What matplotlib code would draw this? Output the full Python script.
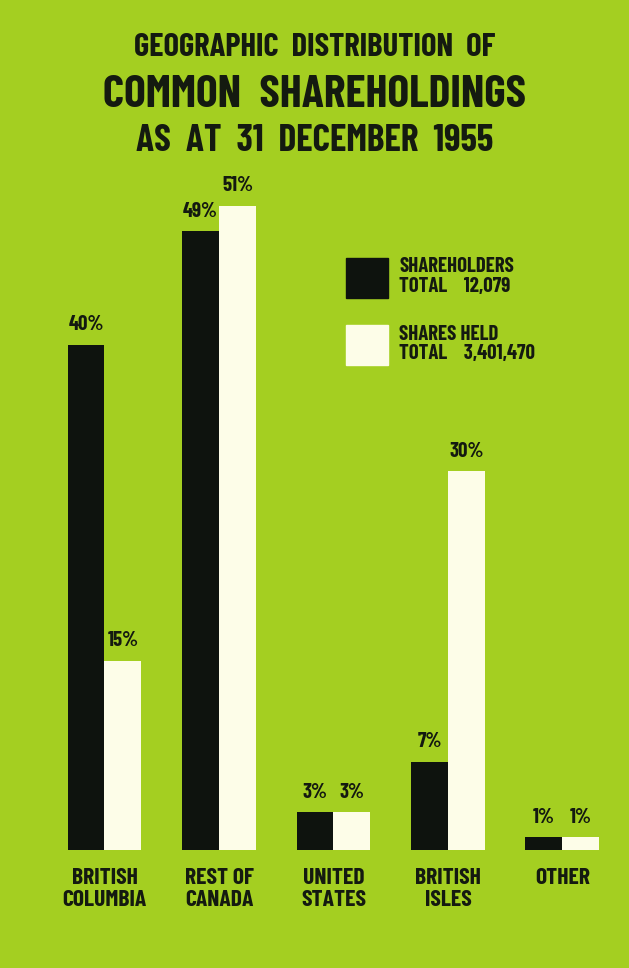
import matplotlib.pyplot as plt
from matplotlib.patches import Patch

# shareholdings by region, per cent
regions = ["BRITISH\nCOLUMBIA", "REST OF\nCANADA", "UNITED\nSTATES", "BRITISH\nISLES", "OTHER"]
shareholders_pct = [40, 49, 3, 7, 1]
shares_held_pct = [15, 51, 3, 30, 1]
shareholders_total = "12,079"
shares_held_total = "3,401,470"

bg = "#a4cf21"
dark = "#0e130e"
cream = "#fdfde8"
ink = "#141a10"
font = ["Barlow Condensed", "DejaVu Sans"]

fig = plt.figure(figsize=(6.29, 9.68), dpi=100)
fig.patch.set_facecolor(bg)

ax = fig.add_axes([0, 0.1219, 1, 0.7829])
ax.set_facecolor(bg)
ax.set_xlim(-0.9127, 4.581)
ax.set_ylim(0, 60)
ax.axis("off")

w = 0.323
x = list(range(len(regions)))
b1 = ax.bar([i - w / 2 for i in x], shareholders_pct, w, color=dark)
b2 = ax.bar([i + w / 2 for i in x], shares_held_pct, w, color=cream)

for bars, vals in ((b1, shareholders_pct), (b2, shares_held_pct)):
    for bar, v in zip(bars, vals):
        ax.annotate(f"{v}%", (bar.get_x() + bar.get_width() / 2, v),
                    xytext=(0, 7.5), textcoords="offset points",
                    ha="center", va="bottom", fontsize=15, fontweight="bold",
                    family=font, color=ink)

for i, name in zip(x, regions):
    ax.annotate(name, (i, 0), xytext=(0, -13), textcoords="offset points",
                ha="center", va="top", fontsize=17, fontweight="bold",
                family=font, color=ink, linespacing=1.1)

# title block
fig.text(0.5, 1 - 48 / 968, "GEOGRAPHIC  DISTRIBUTION  OF", ha="center", va="center",
         fontsize=23.5, fontweight="bold", family=font, color=ink)
fig.text(0.5, 1 - 95 / 968, "COMMON  SHAREHOLDINGS", ha="center", va="center",
         fontsize=33, fontweight="bold", family=font, color=ink)
fig.text(0.5, 1 - 141 / 968, "AS  AT  31  DECEMBER  1955", ha="center", va="center",
         fontsize=27, fontweight="bold", family=font, color=ink)

handles = [Patch(color=dark), Patch(color=cream)]
labels = ["SHAREHOLDERS\nTOTAL    " + shareholders_total,
          "SHARES HELD\nTOTAL    " + shares_held_total]
leg = ax.legend(handles, labels,
                loc="upper left", bbox_to_anchor=(346 / 629, 1 - 257 / 968),
                bbox_transform=fig.transFigure, frameon=False,
                borderpad=0, borderaxespad=0, handlelength=2.0, handleheight=2.58,
                handletextpad=0.55, labelspacing=1.3,
                prop={"family": font, "weight": "bold", "size": 15})
for t in leg.get_texts():
    t.set_color(ink)
    t.set_linespacing(1.05)

fig.savefig("out.png", dpi=100, facecolor=bg)
